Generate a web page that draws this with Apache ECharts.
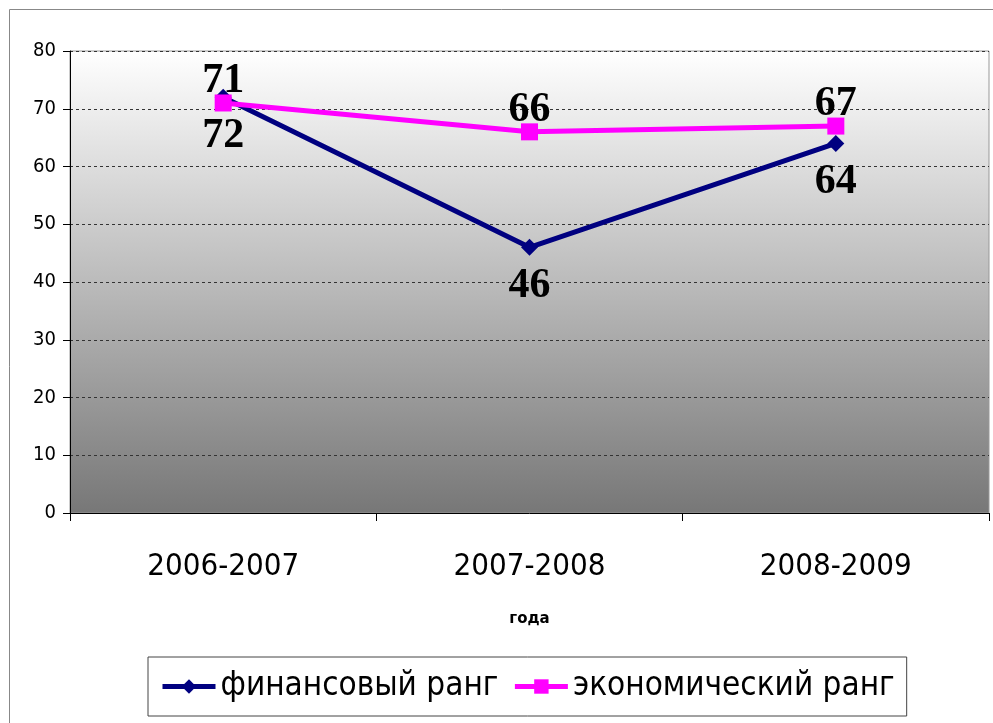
<!DOCTYPE html>
<html><head><meta charset="utf-8">
<script src="https://cdn.jsdelivr.net/npm/echarts@6/dist/echarts.min.js"></script>
<style>html,body{margin:0;padding:0;background:#fff}#c{width:993px;height:723px}</style>
</head><body><div id="c"></div>
<script>
const categories = ['2006-2007', '2007-2008', '2008-2009'];
const finRank = [72, 46, 64];
const econRank = [71, 66, 67];
const seriesNames = ['финансовый ранг', 'экономический ранг'];
const xAxisName = 'года';

const chart = echarts.init(document.getElementById('c'));
const labelFont = {fontFamily: 'Liberation Serif', fontWeight: 'bold', fontSize: 42, color: '#000'};
chart.setOption({
  animation: false,
  graphic: [{type: 'rect', shape: {x: 9.5, y: 9.5, width: 1100, height: 900}, style: {fill: 'none', stroke: '#888', lineWidth: 1}, silent: true, z: -10}],
  grid: {left: 70, right: 4, top: 51, bottom: 210, show: true, borderColor: '#999', borderWidth: 1,
    backgroundColor: new echarts.graphic.LinearGradient(0, 0, 0, 1, [{offset: 0, color: '#ffffff'}, {offset: 1, color: '#777777'}])},
  xAxis: {type: 'category', data: categories, boundaryGap: true,
    name: xAxisName, nameLocation: 'middle', nameGap: 99,
    nameTextStyle: {fontFamily: 'DejaVu Sans', fontWeight: 'bold', fontSize: 15, color: '#000'},
    axisLine: {lineStyle: {color: '#000', width: 1}},
    axisTick: {show: true, length: 8, lineStyle: {color: '#000'}, alignWithLabel: false},
    axisLabel: {fontFamily: 'DejaVu Sans Condensed', fontSize: 31, color: '#000', margin: 38}},
  yAxis: {type: 'value', min: 0, max: 80, interval: 10,
    axisLine: {show: true, lineStyle: {color: '#000', width: 1}},
    axisTick: {show: true, length: 7, lineStyle: {color: '#000'}},
    axisLabel: {fontFamily: 'DejaVu Sans Condensed', fontSize: 20, color: '#000', margin: 14},
    splitLine: {show: true, lineStyle: {color: '#333', type: [3, 3], width: 1}}},
  legend: {left: 148, top: 657, width: 820, itemWidth: 53, itemHeight: 18, itemGap: 14,
    borderColor: '#444', borderWidth: 1, padding: [13, 12, 13, 12],
    lineStyle: {width: 5},
    textStyle: {fontFamily: 'DejaVu Sans Condensed', fontSize: 33, color: '#000'},
    data: seriesNames.map(n => ({name: n}))},
  series: [
    {name: seriesNames[0], type: 'line', data: finRank, symbol: 'diamond', symbolSize: 17,
      lineStyle: {color: '#000080', width: 5}, itemStyle: {color: '#000080'},
      label: {show: true, position: 'bottom', distance: 9, ...labelFont}},
    {name: seriesNames[1], type: 'line', data: econRank, symbol: 'rect', symbolSize: 17,
      lineStyle: {color: '#ff00ff', width: 5}, itemStyle: {color: '#ff00ff'},
      label: {show: true, position: 'top', distance: -8, ...labelFont}}
  ]
});
</script></body></html>
